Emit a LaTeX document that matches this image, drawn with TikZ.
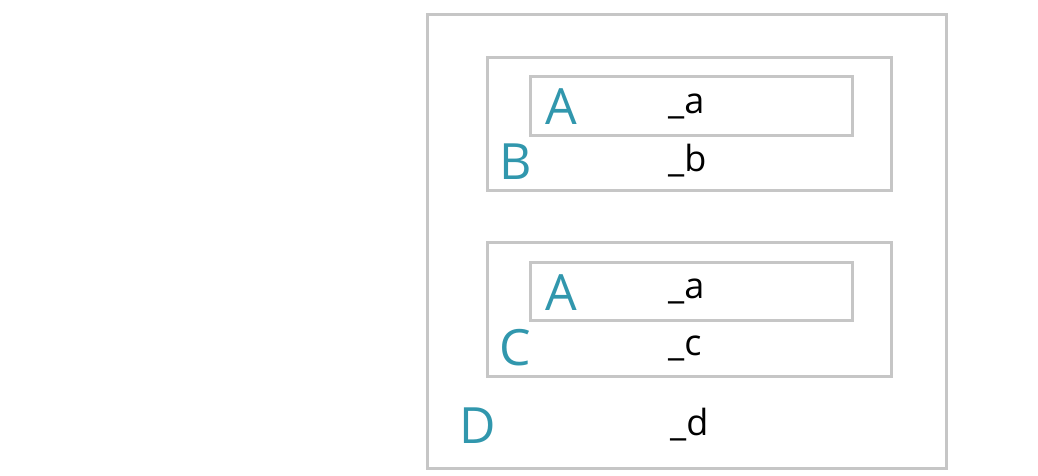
\documentclass[tikz,border=0pt]{standalone}
\usepackage{fontspec}
\setmainfont{Open Sans}
\definecolor{boxgray}{RGB}{198,198,198}
\definecolor{tealc}{RGB}{49,151,173}
\tikzset{
  frame/.style={draw=boxgray, line width=3pt},
  biglabel/.style={text=tealc, font=\fontsize{50}{50}\selectfont, inner sep=0pt, anchor=base west},
  sublabel/.style={text=black, font=\fontsize{36}{36}\selectfont, inner sep=0pt, anchor=base west}
}
\begin{document}
\begin{tikzpicture}[x=1pt,y=-1pt]
\useasboundingbox (0,0) rectangle (1038,475);
% boxes
\draw[frame] (427,14) rectangle (946,468);
\draw[frame] (487,57) rectangle (891,190);
\draw[frame] (530,76) rectangle (852,135);
\draw[frame] (487,242) rectangle (891,376);
\draw[frame] (530,262) rectangle (852,320);
% labels
\node[biglabel] (a1) at (545,124) {A};
\node[sublabel] (a1s) at (668,113) {\_a};
\node[biglabel] (b) at (499,179) {B};
\node[sublabel] (bs) at (668,171) {\_b};
\node[biglabel] (a2) at (545,310) {A};
\node[sublabel] (a2s) at (668,298) {\_a};
\node[biglabel] (c) at (499,365) {C};
\node[sublabel] (cs) at (668,355) {\_c};
\node[biglabel] (d) at (459,443) {D};
\node[sublabel] (ds) at (670,435) {\_d};
\end{tikzpicture}
\end{document}
